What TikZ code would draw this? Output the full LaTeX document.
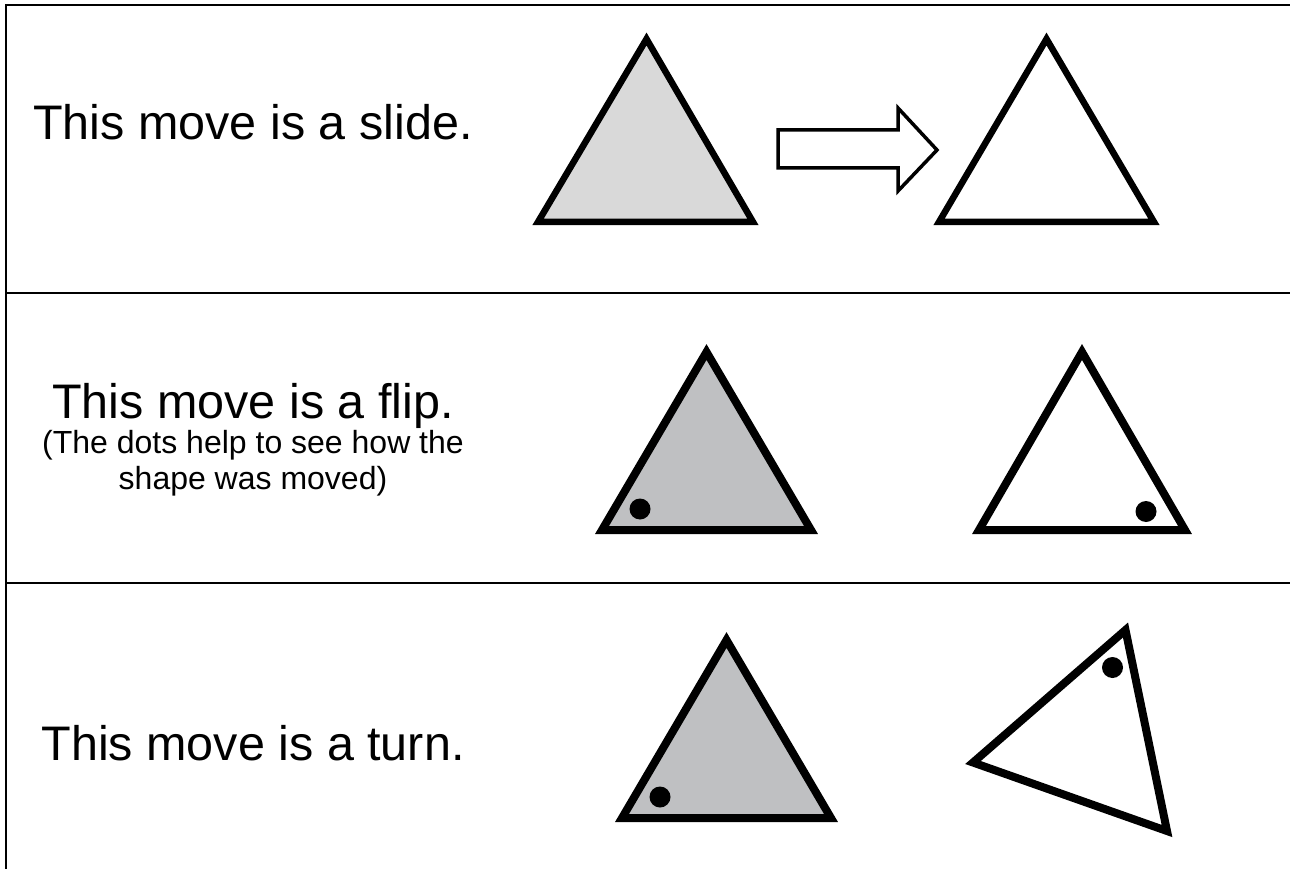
\documentclass[tikz,border=0pt]{standalone}
\usepackage{fontspec}
\setmainfont{Liberation Sans}
\usetikzlibrary{positioning}
\definecolor{slidegray}{RGB}{217,217,217}
\definecolor{movegray}{RGB}{191,192,194}

\begin{document}
\begin{tikzpicture}[x=1pt,y=-1pt,
  rule/.style={line width=2.2pt},
  tri/.style={line width=8pt,line join=miter},
  arr/.style={line width=3.5pt,line join=miter},
  spot/.style={circle,fill=black,inner sep=0pt,minimum size=21pt},
  big/.style={font=\fontsize{48.5}{58}\selectfont,anchor=base,inner sep=0pt},
  note/.style={font=\fontsize{32}{38}\selectfont,anchor=base,inner sep=0pt}
]
\useasboundingbox (0,0) rectangle (1290,869);
\fill[white] (0,0) rectangle (1290,869);
\draw[rule] (6,869) -- (6,5) -- (1290,5);
\draw[rule] (6,293) -- (1290,293);
\draw[rule] (6,583) -- (1290,583);

\node[big] (slidetxt) at (253,140) {This move is a slide.};
\draw[tri,line width=6.5pt,fill=slidegray] (538,222) -- (646.5,39) -- (753,222) -- cycle;
\draw[arr,fill=white] (778,130) -- (898,130) -- (898,108) -- (937,150)
  -- (898,191) -- (898,168) -- (778,168) -- cycle;
\draw[tri,line width=6.5pt,fill=white] (939,222) -- (1046.5,39) -- (1154,222) -- cycle;

\node[big] (fliptxt) at (253,418) {This move is a flip.};
\node[note] (flipnote1) at (253,453) {(The dots help to see how the};
\node[note] (flipnote2) at (253,489) {shape was moved)};
\draw[tri,fill=movegray] (602,530) -- (706.5,352) -- (811,530) -- cycle;
\node[spot] (flipdotA) at (640,509) {};
\draw[tri,fill=white] (979,530) -- (1082,352) -- (1185,530) -- cycle;
\node[spot] (flipdotB) at (1146,511.5) {};

\node[big] (turntxt) at (253,760) {This move is a turn.};
\draw[tri,fill=movegray] (622,818) -- (726.5,640) -- (831,818) -- cycle;
\node[spot] (turndotA) at (660,797) {};
\draw[tri,fill=white] (1125.5,630) -- (973,762.5) -- (1167,831) -- cycle;
\node[spot] (turndotB) at (1112.5,667.5) {};
\end{tikzpicture}
\end{document}
